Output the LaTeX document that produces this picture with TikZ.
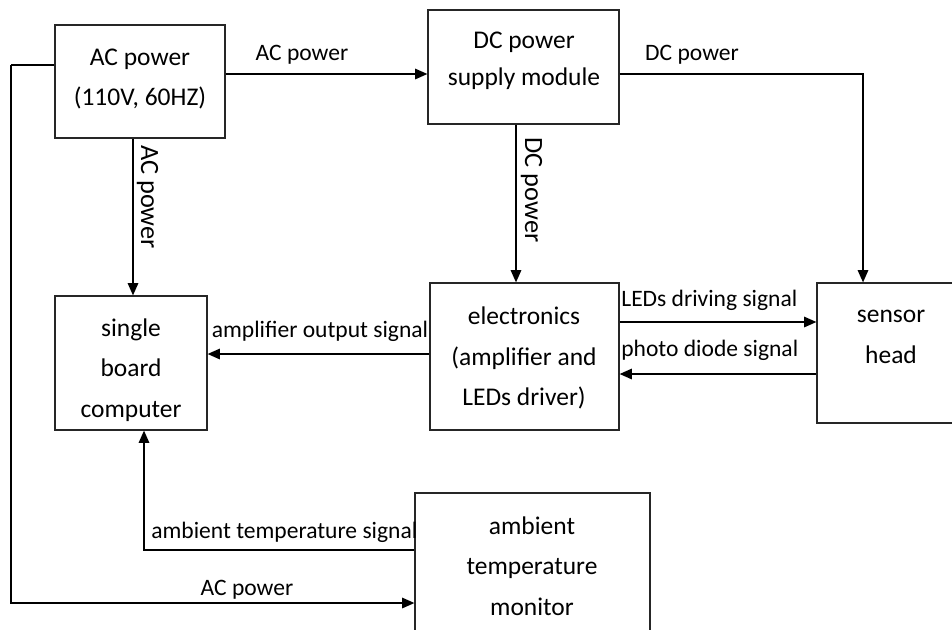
\documentclass[tikz,border=0pt]{standalone}
\usepackage{fontspec}
\setmainfont{Carlito}
\usetikzlibrary{arrows.meta,fit,positioning}

\tikzset{
  blk/.style={draw=black!85, line width=0.7pt, inner sep=0pt},
  boxtxt/.style={align=center, font=\fontsize{14.5}{23}\selectfont},
  lbl/.style={font=\fontsize{13.4}{15}\selectfont, inner sep=0pt, anchor=base},
  vlbl/.style={font=\fontsize{15}{18}\selectfont, inner sep=0pt, anchor=base, rotate=-90},
  arr/.style={line width=0.8pt, -{Triangle[length=7pt,width=6pt]}},
  wire/.style={line width=0.8pt}
}

\begin{document}
\begin{tikzpicture}[x=0.02cm, y=-0.02cm]
\useasboundingbox (0,0) rectangle (952,629);
\clip (0,0) rectangle (952,629);

% blocks
\node[blk, fit={(55,25) (225,138)}] (ac) {};
\node[blk, fit={(428,10) (619,124)}] (dc) {};
\node[blk, fit={(55,296) (207,430)}] (sbc) {};
\node[blk, fit={(430,283) (619,430)}] (el) {};
\node[blk, fit={(817,283) (965,423)}] (sh) {};
\node[blk, fit={(415,493) (650,680)}] (atm) {};

% block texts
\node[boxtxt] (actext) at (140,79) {AC power\\(110V, 60HZ)};
\node[boxtxt, font=\fontsize{14.5}{21}\selectfont] (dctext) at (524,61) {DC power\\supply module};
\node[boxtxt] (sbctext) at (131,370) {single\\board\\computer};
\node[boxtxt] (eltext) at (524,358) {electronics\\(amplifier and\\LEDs driver)};
\node[boxtxt] (shtext) at (891,337) {sensor\\head};
\node[boxtxt] (atmtext) at (532,566) {ambient\\temperature\\monitor};

% corner of the left wire
\coordinate (lc) at (11,65);

% connectors
\draw[arr] (ac.east |- 0,74) -- (dc.west |- 0,74);
\draw[arr] (dc.east |- 0,74) -| (sh.north -| 863,0);
\draw[arr] (dc.south -| 516,0) -- (el.north -| 516,0);
\draw[arr] (ac.south -| 133,0) -- (sbc.north -| 133,0);
\draw[arr] (el.west |- 0,354) -- (sbc.east |- 0,354);
\draw[arr] (el.east |- 0,322) -- (sh.west |- 0,322);
\draw[arr] (sh.west |- 0,374) -- (el.east |- 0,374);
\draw[arr] (atm.west |- 0,550) -| (sbc.south -| 144,0);
\draw[wire] (ac.west |- lc) -- (lc);
\draw[arr] (lc) -- (lc |- 0,603) -- (atm.west |- 0,603);

% connector labels
\node[lbl] (lacdc) at (302,60) {AC power};
\node[lbl] (ldcsh) at (692,60) {DC power};
\node[vlbl] (lacsbc) at (141,197) {AC power};
\node[vlbl] (ldcel) at (525,190) {DC power};
\node[lbl] (lamp) at (320,337) {amplifier output signal};
\node[lbl, anchor=base west] (lled) at (621,306) {LEDs driving signal};
\node[lbl, anchor=base west] (lpd) at (621,356) {photo diode signal};
\node[lbl, anchor=base west] (ltemp) at (151,538) {ambient temperature signal};
\node[lbl] (lacatm) at (247,595) {AC power};
\end{tikzpicture}
\end{document}
